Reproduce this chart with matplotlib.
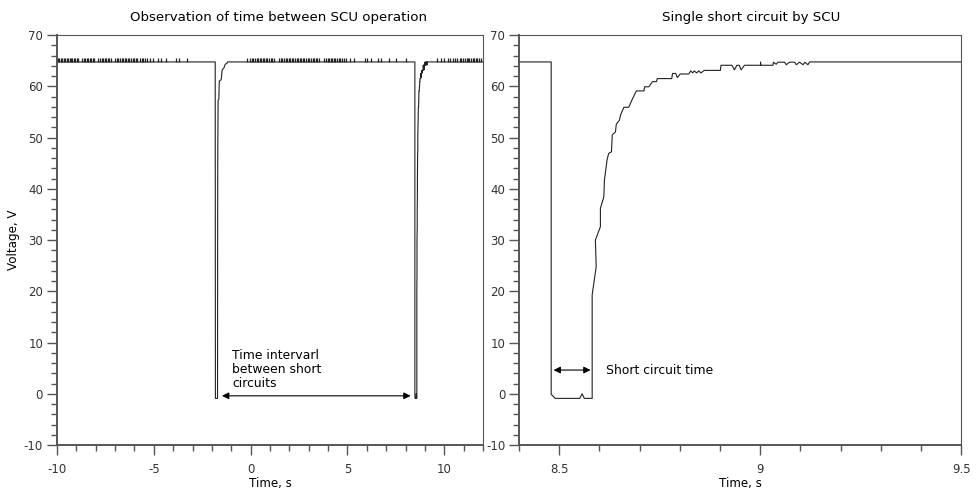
#SCU short circuit voltage plots
import matplotlib
matplotlib.use('Agg')
import matplotlib.pyplot as plt
from matplotlib.ticker import MultipleLocator, FuncFormatter

#voltage trace (time s, voltage V)
time = [-10.0, -1.83, -1.82, -1.71, -1.70, -1.68, -1.64, -1.62, -1.52, -1.47, -1.38, -1.31, -1.22, -1.19,
        8.48, 8.48, 8.49, 8.551, 8.557, 8.5625, 8.582, 8.582, 8.592, 8.590, 8.6025, 8.6025, 8.611, 8.6125,
        8.619, 8.623, 8.63, 8.632, 8.64, 8.642, 8.65, 8.6525, 8.661, 8.673, 8.682, 8.692, 8.711, 8.7125,
        8.723, 8.732, 8.742, 8.744, 8.78, 8.782, 8.79, 8.794, 8.801, 8.822, 8.8275, 8.832, 8.836, 8.842,
        8.847, 8.8525, 8.861, 8.901, 8.9025, 8.93, 8.936, 8.942, 8.948, 8.9525, 8.961, 9.001, 9.001, 9.0015,
        9.032, 9.033, 9.04, 9.044, 9.061, 9.065, 9.073, 9.086, 9.09, 9.098, 9.107, 9.111, 9.119, 9.123, 12.0]
volt = [64.75, 64.75, -0.9, -0.9, 45.0, 57.3, 57.5, 61.0, 61.3, 63.2, 63.6, 64.3, 64.5, 64.75,
        64.75, -0.1, -0.9, -0.9, 0.0, -0.9, -0.9, 19.3, 24.8, 30.0, 32.6, 36.2, 38.4, 41.7,
        45.6, 46.9, 47.2, 50.5, 51.1, 52.6, 53.4, 54.4, 55.9, 55.9, 57.5, 59.1, 59.1, 59.9,
        59.9, 60.9, 60.9, 61.5, 61.5, 62.5, 62.5, 61.7, 62.4, 62.4, 63.0, 62.6, 63.0, 62.6,
        63.0, 62.6, 63.1, 63.1, 64.1, 64.1, 63.2, 64.1, 64.1, 63.2, 64.1, 64.1, 64.73, 64.1,
        64.1, 64.7, 64.3, 64.7, 64.7, 64.2, 64.7, 64.7, 64.2, 64.7, 64.2, 64.7, 64.2, 64.75, 64.75]

#noise spikes on the 65 V level
spike_t = [-9.95, -9.88, -9.80, -9.74, -9.66, -9.57, -9.50, -9.43, -9.35, -9.28, -9.20, -9.12, -9.05,
           -8.98, -8.92, -8.70, -8.62, -8.55, -8.46, -8.40, -8.31, -8.22, -8.15, -8.07, -7.86, -7.78,
           -7.70, -7.61, -7.53, -7.46, -7.38, -7.30, -7.22, -7.00, -6.92, -6.84, -6.75, -6.66, -6.60,
           -6.51, -6.43, -6.35, -6.26, -6.17, -6.10, -6.02, -5.93, -5.85, -5.71, -5.62, -5.55, -5.44,
           -5.33, -5.20, -5.02, -4.80, -4.62, -4.38, -3.84, -3.69, -3.31,
           -0.19, -0.05, 0.05, 0.14, 0.22, 0.31, 0.38, 0.47, 0.55, 0.62, 0.71, 0.80, 0.87, 0.95, 1.04,
           1.12, 1.20, 1.48, 1.56, 1.63, 1.72, 1.80, 1.88, 1.97, 2.05, 2.12, 2.21, 2.30, 2.37, 2.45,
           2.54, 2.62, 2.70, 2.78, 2.87, 2.95, 3.03, 3.12, 3.20, 3.28, 3.37, 3.45, 3.54, 3.80, 3.88,
           3.97, 4.05, 4.13, 4.22, 4.30, 4.38, 4.47, 4.55, 4.63, 4.72, 4.80, 4.92, 5.14, 5.35, 5.92,
           6.02, 6.20, 6.56, 6.72, 7.14, 7.49, 8.02,
           9.64, 9.85, 9.98, 10.18, 10.30, 10.45, 10.55, 10.68, 10.80, 10.88, 10.97, 11.06, 11.15,
           11.22, 11.30, 11.38, 11.46, 11.55, 11.62, 11.70, 11.78, 11.87]
spike_base = 64.75
spike_top = 65.6

#annotations
interval = [-1.48, 8.26]
interval_y = -0.4
sc_time = [8.486, 8.578]
sc_y = 4.63

gray = '#555555'
fmt = FuncFormatter(lambda v, p: '{:g}'.format(v))


def style_axes(ax):
    for s in ax.spines.values():
        s.set_color(gray)
        s.set_linewidth(0.8)
    ax.spines['left'].set_linewidth(1.4)
    ax.spines['bottom'].set_linewidth(1.4)
    ax.tick_params(which='major', direction='out', length=7, width=1, color=gray,
                   labelsize=8.5, labelcolor='#333333', pad=3)
    ax.tick_params(axis='x', which='major', pad=6)
    ax.tick_params(which='minor', direction='out', length=4, width=1, color=gray)
    ax.set_ylim(-10, 70)
    ax.yaxis.set_major_locator(MultipleLocator(10))
    ax.yaxis.set_minor_locator(MultipleLocator(2))
    ax.xaxis.set_major_formatter(fmt)
    ax.yaxis.set_major_formatter(fmt)


fig = plt.figure(figsize=(9.76, 4.92), dpi=100)
ax1 = fig.add_axes([0.0584, 0.0955, 0.4365, 0.8333])
ax2 = fig.add_axes([0.5318, 0.0955, 0.4529, 0.8333])

#left: whole record
ax1.plot(time, volt, color='#222222', lw=0.8)
ax1.vlines(spike_t, spike_base, spike_top, color='#222222', lw=0.9)
style_axes(ax1)
ax1.set_xlim(-10, 12)
ax1.xaxis.set_major_locator(MultipleLocator(5))
ax1.xaxis.set_minor_locator(MultipleLocator(1))
ax1.set_title('Observation of time between SCU operation', fontsize=9.6, pad=10, x=0.52)
ax1.set_xlabel('Time, s', fontsize=8.6, labelpad=1)
ax1.set_ylabel('Voltage, V', fontsize=8.6, labelpad=3)
ax1.annotate('', xy=(interval[1], interval_y), xytext=(interval[0], interval_y),
             arrowprops=dict(arrowstyle='<|-|>,head_length=0.4,head_width=0.2', color='black',
                             lw=0.8, shrinkA=0, shrinkB=0, mutation_scale=10))
ax1.text(-0.96, 8.7, 'Time intervarl\nbetween short\ncircuits', fontsize=8.9, va='top', ha='left',
         linespacing=1.1)

#right: single short circuit
ax2.plot(time, volt, color='#222222', lw=0.8)
style_axes(ax2)
ax2.set_xlim(8.4, 9.5)
ax2.xaxis.set_major_locator(MultipleLocator(0.5))
ax2.xaxis.set_minor_locator(MultipleLocator(0.1))
ax2.set_title('Single short circuit by SCU', fontsize=9.6, pad=10, x=0.525)
ax2.set_xlabel('Time, s', fontsize=8.6, labelpad=1)
ax2.annotate('', xy=(sc_time[1], sc_y), xytext=(sc_time[0], sc_y),
             arrowprops=dict(arrowstyle='<|-|>,head_length=0.4,head_width=0.2', color='black',
                             lw=0.8, shrinkA=0, shrinkB=0, mutation_scale=10))
ax2.text(8.617, 3.9, 'Short circuit time', fontsize=8.9, va='baseline', ha='left')

fig.savefig('out.png', dpi=100)
